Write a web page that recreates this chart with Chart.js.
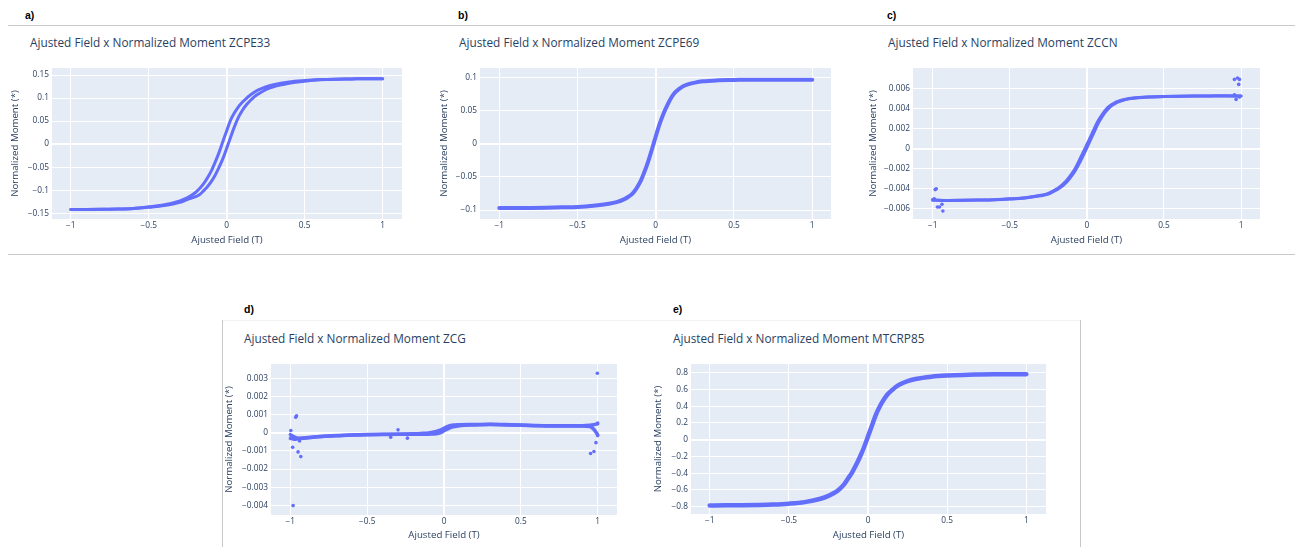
<!DOCTYPE html>
<html>
<head>
<meta charset="utf-8">
<script src="https://cdn.jsdelivr.net/npm/chart.js@4.4.1/dist/chart.umd.min.js"></script>
<style>
  body { margin: 0; background: #fff; width: 1300px; height: 547px; position: relative; overflow: hidden; font-family: "Open Sans", sans-serif; }
  .tag { position: absolute; font: bold 10.5px "Liberation Sans", Arial, sans-serif; color: #000; line-height: 1; transform: translateY(-50%); }
  .ttl { position: absolute; font-size: 11.8px; color: #2a3f5f; line-height: 1; transform: translateY(-50%); white-space: nowrap; }
  .hr { position: absolute; height: 1px; background: #c8c8c8; }
  .vr { position: absolute; width: 1px; background: #c8c8c8; }
  canvas { position: absolute; }
</style>
</head>
<body>
<div class="hr" style="left:8px;top:25px;width:1287px"></div>
<div class="hr" style="left:8px;top:254px;width:1287px"></div>
<div class="hr" style="left:222px;top:320px;width:858px;background:#f3f3f3"></div>
<div class="vr" style="left:222px;top:320px;height:227px"></div>
<div class="vr" style="left:1080px;top:320px;height:227px"></div>

<script>
// Campo (T) compartido por las curvas a, b, c, e
const fieldGrid = [-1, -0.9, -0.8, -0.7, -0.6, -0.5, -0.4, -0.3, -0.25, -0.2, -0.175, -0.15, -0.125, -0.1, -0.075, -0.05, -0.025,
  0, 0.025, 0.05, 0.075, 0.1, 0.125, 0.15, 0.175, 0.2, 0.25, 0.3, 0.4, 0.5, 0.6, 0.7, 0.8, 0.9, 1];

// a) ZCPE33 - dos ramas del lazo
const momentZCPE33Down = [-0.142, -0.1418, -0.1414, -0.1408, -0.1395, -0.136, -0.1315, -0.123, -0.116, -0.105, -0.097, -0.087, -0.074, -0.059, -0.040, -0.019, 0.005,
  0.029, 0.052, 0.068, 0.081, 0.091, 0.099, 0.106, 0.112, 0.117, 0.124, 0.129, 0.135, 0.138, 0.140, 0.141, 0.1415, 0.142, 0.142];
const momentZCPE33Up = [-0.142, -0.1418, -0.1415, -0.141, -0.1398, -0.137, -0.1335, -0.1265, -0.120, -0.114, -0.110, -0.102, -0.093, -0.082, -0.068, -0.051, -0.032,
  -0.009, 0.015, 0.038, 0.058, 0.073, 0.085, 0.094, 0.102, 0.108, 0.118, 0.1245, 0.132, 0.1365, 0.1395, 0.141, 0.1415, 0.142, 0.142];

// b) ZCPE69
const momentZCPE69 = [-0.097, -0.097, -0.0968, -0.0965, -0.096, -0.0953, -0.0935, -0.0905, -0.088, -0.0835, -0.080, -0.0755, -0.068, -0.058, -0.044, -0.028, -0.009,
  0.011, 0.030, 0.046, 0.059, 0.070, 0.078, 0.083, 0.087, 0.0895, 0.0925, 0.0945, 0.096, 0.0965, 0.097, 0.097, 0.097, 0.097, 0.097];

// c) ZCCN
const momentZCCNDown = [-0.00512, -0.00515, -0.00514, -0.00512, -0.00508, -0.00500, -0.00488, -0.00465, -0.00445, -0.00405, -0.00378, -0.00345, -0.00305, -0.00255, -0.00195, -0.00120, -0.00040,
  0.00040, 0.00120, 0.00205, 0.00280, 0.00340, 0.00390, 0.00425, 0.00450, 0.00468, 0.00490, 0.00502, 0.00512, 0.00517, 0.00520, 0.00522, 0.00523, 0.00524, 0.00522];
const momentZCCNUp = [-0.00512, -0.00515, -0.00514, -0.00512, -0.00509, -0.00502, -0.00491, -0.00470, -0.00452, -0.00415, -0.00390, -0.00360, -0.00322, -0.00275, -0.00218, -0.00150, -0.00072,
  0.00008, 0.00090, 0.00172, 0.00255, 0.00320, 0.00372, 0.00412, 0.00440, 0.00460, 0.00486, 0.00500, 0.00511, 0.00516, 0.00519, 0.00521, 0.00522, 0.00523, 0.00522];
const outlierZCCNField = [-0.998, -0.99, -0.984, -0.977, -0.97, -0.956, -0.94, -0.934, 0.957, 0.977, 0.99, 0.985, 0.968, 0.957, 0.99];
const outlierZCCNMoment = [-0.00508, -0.00500, -0.00408, -0.00400, -0.00581, -0.00581, -0.00554, -0.00620, 0.00687, 0.00700, 0.00687, 0.00637, 0.00488, 0.00535, 0.00512];

// d) ZCG
const fieldZCG = [-1, -0.975, -0.95, -0.9, -0.8, -0.7, -0.6, -0.5, -0.4, -0.3, -0.2, -0.15, -0.1, -0.05, -0.025,
  0, 0.025, 0.05, 0.1, 0.2, 0.3, 0.4, 0.5, 0.6, 0.7, 0.8, 0.9, 0.95, 0.975, 1];
const momentZCGDown = [-0.0001, -0.00022, -0.0003, -0.00027, -0.0002, -0.00015, -0.00011, -0.00009, -0.00008, -0.00007, -0.00005, -0.00003, 0.0, 0.00008, 0.00015,
  0.00026, 0.00036, 0.00042, 0.00045, 0.00046, 0.00048, 0.00046, 0.00044, 0.00041, 0.0004, 0.0004, 0.0004, 0.00042, 0.00045, 0.0005];
const momentZCGUp = [-0.0003, -0.00035, -0.00032, -0.00028, -0.0002, -0.00016, -0.00012, -0.0001, -0.00009, -0.00008, -0.00008, -0.00008, -0.00007, -0.00005, 0.0,
  0.00012, 0.00022, 0.00032, 0.0004, 0.00044, 0.00046, 0.00044, 0.00042, 0.0004, 0.00038, 0.00038, 0.00038, 0.00035, 0.0002, -0.0001];
const outlierZCGField = [-0.997, -0.99, -0.985, -0.982, -0.965, -0.96, -0.95, -0.94, -0.932, -0.347, -0.299, -0.238, 0.954, 0.976, 0.989, 0.998, 1.0, 1.0];
const outlierZCGMoment = [0.00013, -0.00026, -0.00079, -0.00402, 0.00087, 0.00095, -0.00105, -0.00045, -0.00131, -0.00024, 0.00017, -0.00029, -0.00114, -0.00103, -0.00054, 0.0033, 0.00055, -0.00015];

// e) MTCRP85
const momentMTCRP85 = [-0.785, -0.784, -0.782, -0.779, -0.774, -0.764, -0.745, -0.705, -0.67, -0.62, -0.58, -0.53, -0.46, -0.39, -0.30, -0.20, -0.09,
  0.04, 0.17, 0.30, 0.40, 0.48, 0.545, 0.59, 0.63, 0.66, 0.70, 0.725, 0.752, 0.766, 0.774, 0.778, 0.781, 0.782, 0.783];

// Ticks
const xTicks = [-1, -0.5, 0, 0.5, 1];
const yTicksZCPE33 = [-0.15, -0.1, -0.05, 0, 0.05, 0.1, 0.15];
const yTicksZCPE69 = [-0.1, -0.05, 0, 0.05, 0.1];
const yTicksZCCN = [-0.006, -0.004, -0.002, 0, 0.002, 0.004, 0.006];
const yTicksZCG = [-0.004, -0.003, -0.002, -0.001, 0, 0.001, 0.002, 0.003];
const yTicksMTCRP85 = [-0.8, -0.6, -0.4, -0.2, 0, 0.2, 0.4, 0.6, 0.8];

const blue = "#636efa";
Chart.defaults.font.family = '"Open Sans", sans-serif';

const panels = [
  { tag: "a)", tagX: 25, tagY: 15, name: "ZCPE33", titleX: 30, titleY: 43,
    plot: [52, 68, 402, 219], yTitleX: 15, xTitleY: 239.5, xRange: [-1.12, 1.124], yRange: [-0.1625, 0.1652],
    yTicks: yTicksZCPE33, width: 3,
    curves: [[fieldGrid, momentZCPE33Down], [fieldGrid, momentZCPE33Up]] },
  { tag: "b)", tagX: 458, tagY: 15, name: "ZCPE69", titleX: 459, titleY: 43,
    plot: [480, 68, 831, 219], yTitleX: 443.5, xTitleY: 239.5, xRange: [-1.123, 1.12], yRange: [-0.1136, 0.1146],
    yTicks: yTicksZCPE69, width: 4,
    curves: [[fieldGrid, momentZCPE69]] },
  { tag: "c)", tagX: 887, tagY: 15, name: "ZCCN", titleX: 888, titleY: 43,
    plot: [913, 68, 1260, 219], yTitleX: 872.5, xTitleY: 239.5, xRange: [-1.128, 1.123], yRange: [-0.0070, 0.0080],
    yTicks: yTicksZCCN, width: 3,
    curves: [[fieldGrid, momentZCCNDown], [fieldGrid, momentZCCNUp]],
    outliers: [outlierZCCNField, outlierZCCNMoment] },
  { tag: "d)", tagX: 244, tagY: 309, name: "ZCG", titleX: 244, titleY: 339,
    plot: [271, 364, 617, 515], yTitleX: 229, xTitleY: 535, xRange: [-1.126, 1.126], yRange: [-0.00454, 0.00381],
    yTicks: yTicksZCG, width: 3.5,
    curves: [[fieldZCG, momentZCGDown], [fieldZCG, momentZCGUp]],
    outliers: [outlierZCGField, outlierZCGMoment] },
  { tag: "e)", tagX: 673, tagY: 309, name: "MTCRP85", titleX: 673, titleY: 339,
    plot: [691, 364, 1046, 514], yTitleX: 657.5, xTitleY: 535, xRange: [-1.118, 1.124], yRange: [-0.887, 0.904],
    yTicks: yTicksMTCRP85, width: 4.5,
    curves: [[fieldGrid, momentMTCRP85]] },
];

// Fondo del área de trazado estilo plotly
const plotBg = {
  id: "plotBg",
  beforeDraw(chart) {
    const { ctx, chartArea: a } = chart;
    ctx.save();
    ctx.fillStyle = "#e5ecf6";
    ctx.fillRect(a.left, a.top, a.right - a.left, a.bottom - a.top);
    ctx.restore();
  },
};

function fmt(v) {
  return String(v).replace("-", "\u2212");
}

function pts(xs, ys) {
  return xs.map((x, i) => ({ x: x, y: ys[i] }));
}

function addText(cls, text, x, y) {
  const el = document.createElement("div");
  el.className = cls;
  el.textContent = text;
  el.style.left = x + "px";
  el.style.top = y + "px";
  document.body.appendChild(el);
}

function buildPanel(p) {
  addText("tag", p.tag, p.tagX, p.tagY);
  addText("ttl", "Ajusted Field x Normalized Moment " + p.name, p.titleX, p.titleY);

  const [pl, pt, pr, pb] = p.plot;
  const cl = Math.round(p.yTitleX - 10);
  const ct = pt - 10;
  const cr = pr + 20;
  const cb = Math.round(p.xTitleY + 10);

  const canvas = document.createElement("canvas");
  canvas.width = cr - cl;
  canvas.height = cb - ct;
  canvas.style.left = cl + "px";
  canvas.style.top = ct + "px";
  canvas.style.width = cr - cl + "px";
  canvas.style.height = cb - ct + "px";
  document.body.appendChild(canvas);

  const datasets = p.curves.map(([xs, ys]) => ({
    data: pts(xs, ys),
    showLine: true,
    borderColor: blue,
    backgroundColor: blue,
    borderWidth: p.width,
    pointRadius: 0,
    cubicInterpolationMode: "monotone",
    borderCapStyle: "round",
    borderJoinStyle: "round",
  }));
  if (p.outliers) {
    datasets.push({
      data: pts(p.outliers[0], p.outliers[1]),
      showLine: false,
      backgroundColor: blue,
      borderWidth: 0,
      pointRadius: 1.8,
    });
  }

  const gridOpts = {
    color: "#ffffff",
    lineWidth: (c) => (c.tick && c.tick.value === 0 ? 2 : 1),
    drawTicks: false,
  };

  new Chart(canvas.getContext("2d"), {
    type: "scatter",
    data: { datasets },
    plugins: [plotBg],
    options: {
      responsive: false,
      animation: false,
      layout: { padding: { left: 0, top: 10, right: 20, bottom: 0 } },
      plugins: { legend: { display: false }, tooltip: { enabled: false } },
      scales: {
        x: {
          type: "linear",
          min: p.xRange[0],
          max: p.xRange[1],
          afterBuildTicks: (s) => { s.ticks = xTicks.map((v) => ({ value: v })); },
          afterFit: (s) => { s.height = cb - pb; },
          grid: gridOpts,
          border: { display: false },
          ticks: { padding: 2, color: "#2a3f5f", font: { size: 8.3 }, callback: fmt, maxRotation: 0, autoSkip: false },
          title: { display: true, text: "Ajusted Field (T)", color: "#2a3f5f", font: { size: 9.7 }, padding: { top: 0, bottom: 4.2 } },
        },
        y: {
          type: "linear",
          min: p.yRange[0],
          max: p.yRange[1],
          afterBuildTicks: (s) => { s.ticks = p.yTicks.map((v) => ({ value: v })); },
          afterFit: (s) => { s.width = pl - cl; },
          grid: gridOpts,
          border: { display: false },
          ticks: { padding: 3, color: "#2a3f5f", font: { size: 8.3 }, callback: fmt, autoSkip: false },
          title: { display: true, text: "Normalized Moment (*)", color: "#2a3f5f", font: { size: 9.7 }, padding: { top: 4.2, bottom: 0 } },
        },
      },
    },
  });
}

panels.forEach(buildPanel);
</script>
</body>
</html>
